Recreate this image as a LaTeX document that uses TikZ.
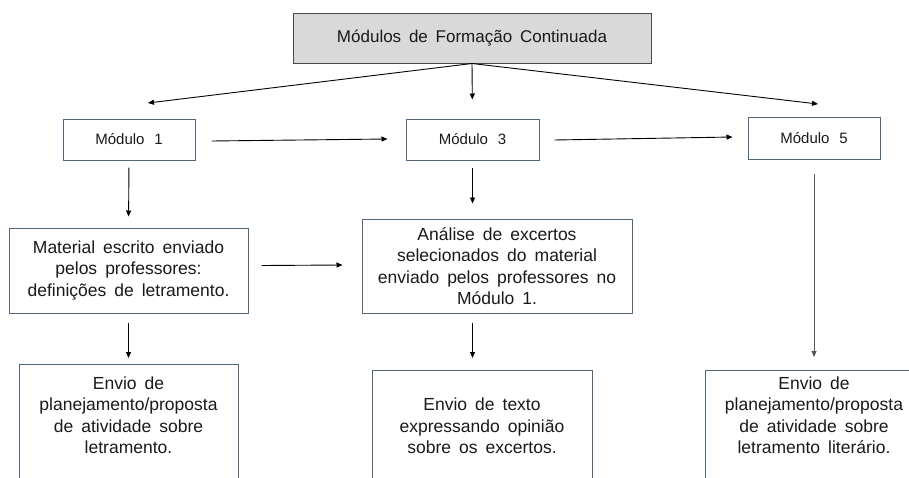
\documentclass[tikz,border=0pt]{standalone}
\usepackage{fontspec}
\setmainfont{Liberation Sans}[WordSpace={1.65,1.4,1}]
\usetikzlibrary{arrows.meta,calc}
\definecolor{boxc}{HTML}{52657A}
\definecolor{titlec}{HTML}{4A4A4A}
\definecolor{titlefill}{HTML}{D9D9D9}
\definecolor{textc}{HTML}{1A1A1A}
\definecolor{grayline}{HTML}{555555}
\tikzset{
  box/.style={draw=boxc, line width=1pt, fill=white, inner sep=0pt},
  txt/.style={align=center, text=textc, inner sep=0pt,
    font=\fontsize{17.5}{21.5}\selectfont},
  modtxt/.style={text=textc, font=\fontsize{15}{18}\selectfont},
  arr/.style={draw=black, line width=0.9pt, -{Triangle[length=6pt,width=5pt]}},
}
\begin{document}
\begin{tikzpicture}[x=1pt,y=-1pt]
\useasboundingbox (0,0) rectangle (909,477);
\clip (0,0) rectangle (909,477);

% title
\node[box, draw=titlec, fill=titlefill, minimum width=358pt, minimum height=50pt,
  text=textc, font=\fontsize{17}{21}\selectfont]
  (top) at (472,38) {Módulos de Formação Continuada};

% modules
\node[box, modtxt, minimum width=132pt, minimum height=41pt] (m1) at (129,139.5) {Módulo\hspace{0.65em}1};
\node[box, modtxt, minimum width=133pt, minimum height=41pt] (m3) at (472.5,139.5) {Módulo\hspace{0.65em}3};
\node[box, modtxt, minimum width=132pt, minimum height=42pt] (m5) at (814,138) {Módulo\hspace{0.65em}5};

% middle boxes
\node[box, minimum width=239pt, minimum height=85pt] (mat) at (128.5,270.5) {};
\node[txt] (matt) at (mat.center) {Material escrito enviado\\pelos professores:\\definições de letramento.};
\node[box, minimum width=270pt, minimum height=94pt] (an) at (497,266) {};
\node[txt] (ant) at (an.center) {Análise de excertos\\selecionados do material\\enviado pelos professores no\\Módulo 1.};

% bottom boxes (cut by the lower edge)
\node[box, anchor=north, minimum width=219pt, minimum height=150pt] (e1) at (128.5,364) {};
\node[txt] (e1t) at (128.5,415) {Envio de\\planejamento/proposta\\de atividade sobre\\letramento.};
\node[box, anchor=north, minimum width=220pt, minimum height=150pt] (e2) at (482,370) {};
\node[txt] (e2t) at (482,426) {Envio de texto\\expressando opinião\\sobre os excertos.};
\node[box, anchor=north, minimum width=218pt, minimum height=150pt] (e3) at (814,370) {};
\node[txt] (e3t) at (814,415) {Envio de\\planejamento/proposta\\de atividade sobre\\letramento literário.};

% free arrow ends
\coordinate (c1) at (148,103);
\coordinate (c3) at (818,104);

% connectors
\draw[arr] (top.south) -- (c1);
\draw[arr, shorten >=19pt] (top.south) -- (m3.north);
\draw[arr] (top.south) -- (c3);
\draw[arr] ($(m1.east)+(16,1.5)$) -- ($(m3.west)+(-18,-0.5)$);
\draw[arr] ($(m3.east)+(15,0.5)$) -- ($(m5.west)+(-15,-1)$);
\draw[arr, shorten <=7pt, shorten >=11pt] (m1.south) -- (mat.north);
\draw[arr] ($(mat.east)+(13,-5)$) -- ($(an.west)+(-19,-1)$);
\draw[arr, shorten <=7pt, shorten >=15pt] (m3.south) -- (m3.south |- an.north);
\draw[arr, draw=grayline, shorten <=14pt, shorten >=13pt] (m5.south) -- (e3.north);
\draw[arr, shorten <=9pt, shorten >=6pt] (mat.south) -- (e1.north);
\draw[arr, shorten <=9pt, shorten >=12pt] (m3.south |- an.south) -- (m3.south |- e2.north);
\end{tikzpicture}
\end{document}
